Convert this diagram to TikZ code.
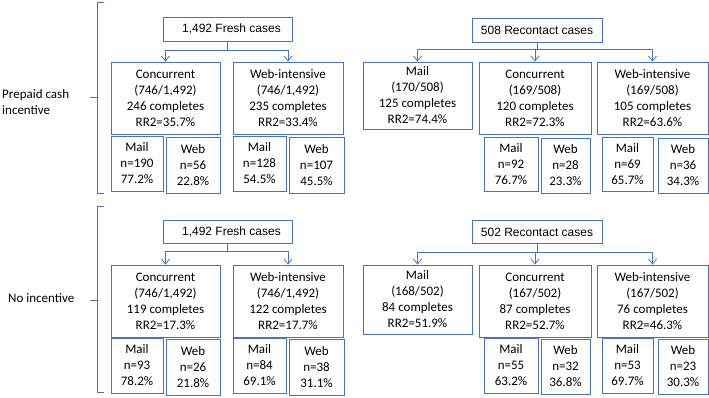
\documentclass[tikz,border=0pt]{standalone}
\usepackage{fontspec}
\setmainfont{Carlito}
\newfontfamily\hdfont{Liberation Sans}
\usetikzlibrary{arrows.meta}
\definecolor{lc}{RGB}{68,114,196}
\begin{document}
\begin{tikzpicture}[x=1pt,y=-1pt,
  box/.style={draw=lc,line width=0.8pt,rectangle,inner sep=0pt,align=center,
    font=\fontsize{13}{16}\selectfont},
  hdr/.style={draw=lc,line width=0.8pt,rectangle,inner sep=0pt,align=center,
    font=\hdfont\fontsize{12}{14}\selectfont},
  lbl/.style={inner sep=0pt,align=left,anchor=west,font=\fontsize{13}{16}\selectfont},
  con/.style={draw=lc,line width=0.8pt},
  arr/.style={draw=lc,line width=0.8pt,-{Straight Barb[length=5pt,width=8pt]}}]
\useasboundingbox (0,0) rectangle (709,397);
% ---------- top half ----------
\coordinate (b1t) at (104,2);
\coordinate (b1b) at (104,193);
\coordinate (b1m) at (90,97);
\draw[con] (b1t) -- (97,2) -- (97,193) -- (b1b);
\draw[con] (b1m) -- (97,97);
\node[lbl] (lab1) at (2,102) {Prepaid cash\\incentive};

\node[hdr,minimum width=129pt,minimum height=24pt] (fresh1) at (227.5,29) {\hspace*{8pt}1,492 Fresh cases};
\node[box,minimum width=109pt,minimum height=72pt] (conc1) at (165.5,98) {Concurrent\\(746/1,492)\\246 completes\\RR2=35.7\%};
\node[box,minimum width=110pt,minimum height=72pt] (web1) at (288,98) {Web-intensive\\(746/1,492)\\235 completes\\RR2=33.4\%};
\node[box,minimum width=52pt,minimum height=55pt] (s1a) at (137,163.5) {Mail\\n=190\\77.2\%};
\node[box,minimum width=54pt,minimum height=56pt] (s1b) at (193,165) {Web\\n=56\\22.8\%};
\node[box,minimum width=53pt,minimum height=55pt] (s1c) at (259.5,163.5) {Mail\\n=128\\54.5\%};
\node[box,minimum width=55pt,minimum height=56pt] (s1d) at (316.5,165) {Web\\n=107\\45.5\%};
\draw[con] (fresh1.south) -- ++(0,9) coordinate (j1);
\draw[arr] (j1) -| (conc1.north);
\draw[arr] (j1) -| (web1.north);

\node[hdr,minimum width=130pt,minimum height=24pt] (rec1) at (537,30) {508 Recontact cases};
\node[box,minimum width=109pt,minimum height=67pt] (rm1) at (417.5,95.5) {Mail\\(170/508)\\125 completes\\RR2=74.4\%};
\node[box,minimum width=112pt,minimum height=72pt] (rc1) at (535,98) {Concurrent\\(169/508)\\120 completes\\RR2=72.3\%};
\node[box,minimum width=111pt,minimum height=72pt] (rw1) at (652.5,98) {Web-intensive\\(169/508)\\105 completes\\RR2=63.6\%};
\node[box,minimum width=54pt,minimum height=54pt] (t1a) at (511,164) {Mail\\n=92\\76.7\%};
\node[box,minimum width=49pt,minimum height=55pt] (t1b) at (565.5,165.5) {Web\\n=28\\23.3\%};
\node[box,minimum width=51pt,minimum height=54pt] (t1c) at (627.5,164) {Mail\\n=69\\65.7\%};
\node[box,minimum width=50pt,minimum height=55pt] (t1d) at (683,165.5) {Web\\n=36\\34.3\%};
\draw[con] (rec1.south) -- ++(0,7) coordinate (k1);
\draw[arr] (k1) -| (rm1.north);
\draw[arr] (k1) -| (rc1.north);
\draw[arr] (k1) -| (rw1.north);

% ---------- bottom half ----------
\coordinate (b2t) at (104,206);
\coordinate (b2b) at (104,392);
\coordinate (b2m) at (90,300);
\draw[con] (b2t) -- (97,206) -- (97,392) -- (b2b);
\draw[con] (b2m) -- (97,300);
\node[lbl] (lab2) at (8,298) {No incentive};

\node[hdr,minimum width=129pt,minimum height=23pt] (fresh2) at (227.5,231.5) {\hspace*{8pt}1,492 Fresh cases};
\node[box,minimum width=109pt,minimum height=72pt] (conc2) at (165.5,301) {Concurrent\\(746/1,492)\\119 completes\\RR2=17.3\%};
\node[box,minimum width=110pt,minimum height=72pt] (web2) at (288,301) {Web-intensive\\(746/1,492)\\122 completes\\RR2=17.7\%};
\node[box,minimum width=52pt,minimum height=55pt] (s2a) at (137,365.5) {Mail\\n=93\\78.2\%};
\node[box,minimum width=54pt,minimum height=56pt] (s2b) at (193,367) {Web\\n=26\\21.8\%};
\node[box,minimum width=53pt,minimum height=55pt] (s2c) at (259.5,365.5) {Mail\\n=84\\69.1\%};
\node[box,minimum width=55pt,minimum height=56pt] (s2d) at (316.5,367) {Web\\n=38\\31.1\%};
\draw[con] (fresh2.south) -- ++(0,8) coordinate (j2);
\draw[arr] (j2) -| (conc2.north);
\draw[arr] (j2) -| (web2.north);

\node[hdr,minimum width=130pt,minimum height=23pt] (rec2) at (537,232) {502 Recontact cases};
\node[box,minimum width=109pt,minimum height=69pt] (rm2) at (417.5,299.5) {Mail\\(168/502)\\84 completes\\RR2=51.9\%};
\node[box,minimum width=112pt,minimum height=72pt] (rc2) at (535,301) {Concurrent\\(167/502)\\87 completes\\RR2=52.7\%};
\node[box,minimum width=111pt,minimum height=72pt] (rw2) at (652.5,301) {Web-intensive\\(167/502)\\76 completes\\RR2=46.3\%};
\node[box,minimum width=54pt,minimum height=55pt] (t2a) at (511,365.5) {Mail\\n=55\\63.2\%};
\node[box,minimum width=49pt,minimum height=55pt] (t2b) at (565.5,366.5) {Web\\n=32\\36.8\%};
\node[box,minimum width=51pt,minimum height=55pt] (t2c) at (627.5,365.5) {Mail\\n=53\\69.7\%};
\node[box,minimum width=50pt,minimum height=55pt] (t2d) at (683,366.5) {Web\\n=23\\30.3\%};
\draw[con] (rec2.south) -- ++(0,8) coordinate (k2);
\draw[arr] (k2) -| (rm2.north);
\draw[arr] (k2) -| (rc2.north);
\draw[arr] (k2) -| (rw2.north);
\end{tikzpicture}
\end{document}
